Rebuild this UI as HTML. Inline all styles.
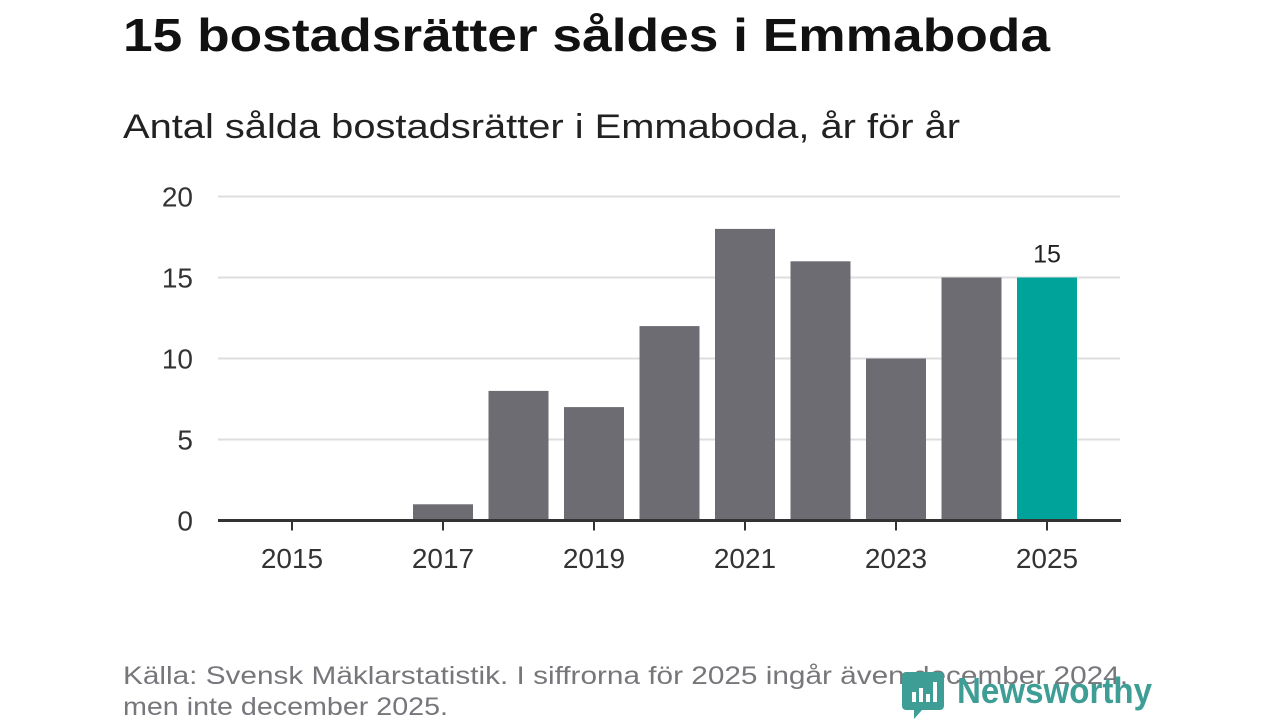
<!DOCTYPE html>
<html><head><meta charset="utf-8">
<style>
html,body{margin:0;padding:0;background:#fff;}
body{width:1280px;height:720px;overflow:hidden;position:relative;font-family:"Liberation Sans",sans-serif;}
</style></head>
<body>
<svg id="chart" width="1280" height="720" xmlns="http://www.w3.org/2000/svg" font-family="Liberation Sans, sans-serif">
<text x="123" y="51" font-size="46" font-weight="bold" fill="#111" textLength="927" lengthAdjust="spacingAndGlyphs">15 bostadsrätter såldes i Emmaboda</text>
<text x="123" y="138" font-size="34" fill="#222" textLength="837" lengthAdjust="spacingAndGlyphs">Antal sålda bostadsrätter i Emmaboda, år för år</text>
<g id="grid"></g>
<g id="bars"></g>
<g id="axis"></g>
<text x="123" y="684" font-size="25" fill="#77767b" textLength="1005" lengthAdjust="spacingAndGlyphs">Källa: Svensk Mäklarstatistik. I siffrorna för 2025 ingår även december 2024,</text>
<text x="123" y="715" font-size="25" fill="#77767b" textLength="325" lengthAdjust="spacingAndGlyphs">men inte december 2025.</text>
<g>
<path d="M906 672 h34 a4 4 0 0 1 4 4 v30 a4 4 0 0 1 -4 4 h-18 l-8 9 v-9 h-8 a4 4 0 0 1 -4 -4 v-30 a4 4 0 0 1 4 -4z" fill="#3e9e95"/>
<rect x="912" y="692" width="4" height="10" fill="#fff"/><rect x="919" y="688" width="4" height="14" fill="#fff"/><rect x="926" y="694" width="4" height="8" fill="#fff"/><rect x="933" y="682" width="4" height="20" fill="#fff"/>
<text x="957" y="703" font-size="36" font-weight="bold" fill="#3e9e95" textLength="195" lengthAdjust="spacingAndGlyphs">Newsworthy</text>
</g>
</svg>
<script>
const years = [2015,2016,2017,2018,2019,2020,2021,2022,2023,2024,2025];
const values = [0,0,1,8,7,12,18,16,10,15,15];
const yTicks = [0,5,10,15,20];
const xTickLabels = [2015,2017,2019,2021,2023,2025];
const NS="http://www.w3.org/2000/svg";
const x0=292, step=75.5, bw=60, yBase=520.5, yTop=196.5, yMax=20;
function xs(i){return x0+i*step;}
function ys(v){return yBase-(v/yMax)*(yBase-yTop);}
function mk(tag,attrs,parent){const e=document.createElementNS(NS,tag);for(const k in attrs)e.setAttribute(k,attrs[k]);parent.appendChild(e);return e;}
const grid=document.getElementById('grid'),bars=document.getElementById('bars'),axis=document.getElementById('axis');
yTicks.forEach(t=>{
  if(t>0){const l=mk('line',{x1:218,x2:1120,y1:ys(t),y2:ys(t),stroke:'#dedede','stroke-width':2},grid);
  
  }
  const tx=mk('text',{x:193,y:ys(t)+10,'font-size':28,'text-anchor':'end',fill:'#333'},grid);
  tx.textContent=t;
  
  
});
values.forEach((v,i)=>{
  if(v<=0)return;
  const last=i===values.length-1;
  const r=mk('rect',{x:xs(i)-bw/2,y:ys(v),width:bw,height:yBase-ys(v),fill:last?'#00a399':'#6d6c72'},bars);
  
  
  if(last){const lb=mk('text',{x:xs(i),y:ys(v)-15,'font-size':25,'text-anchor':'middle',fill:'#222'},bars);
  lb.textContent=v;
  
  }
});
const ax=mk('line',{x1:218,x2:1121,y1:yBase,y2:yBase,stroke:'#333','stroke-width':3},axis);


xTickLabels.forEach(y=>{
  const i=years.indexOf(y);
  const tk=mk('line',{x1:xs(i),x2:xs(i),y1:yBase,y2:yBase+10,stroke:'#333','stroke-width':2},axis);
  
  
  const tx=mk('text',{x:xs(i),y:568,'font-size':28,'text-anchor':'middle',fill:'#333'},axis);
  tx.textContent=y;
  
  
});
</script>
</body></html>
